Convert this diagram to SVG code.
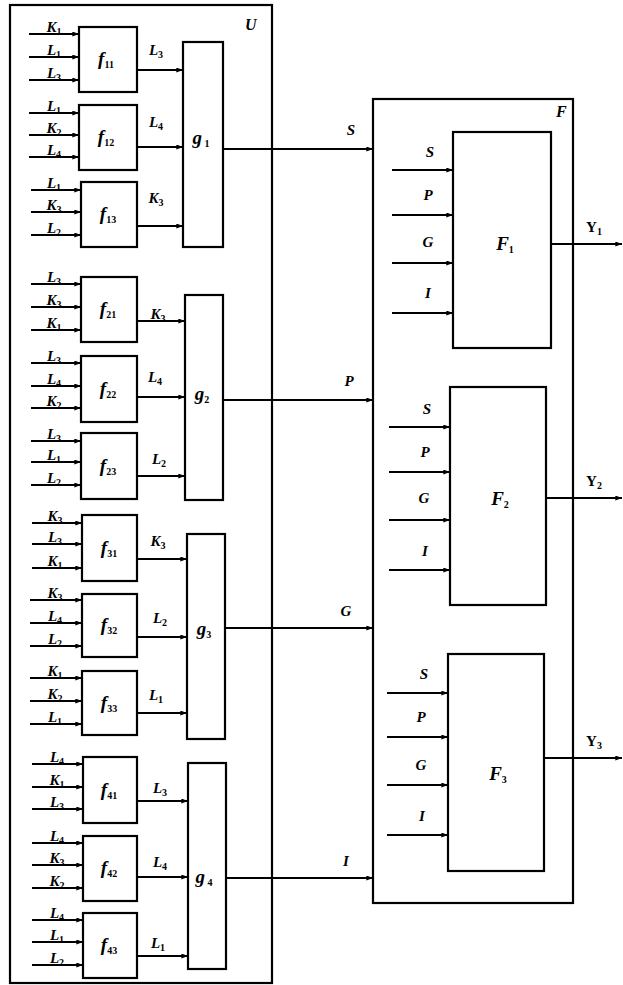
<svg xmlns="http://www.w3.org/2000/svg" width="623" height="985" viewBox="0 0 623 985">
<style>
.box{fill:#fff;stroke:#000;stroke-width:2.2}
.ln{stroke:#000;stroke-width:2;fill:none;marker-end:url(#a)}
.ln2{stroke:#000;stroke-width:2;fill:none}
text{font-family:"Liberation Serif","Times New Roman",serif;font-weight:bold;font-style:italic;fill:#000}
.in{font-size:15px;text-anchor:middle}
.fl{font-size:19px;text-anchor:middle}
.up{font-style:normal}
.s{font-size:10px;font-style:normal}
</style>
<defs>
<marker id="a" viewBox="0 0 8 6" refX="8" refY="3" markerWidth="7" markerHeight="5" markerUnits="userSpaceOnUse" orient="auto"><path d="M0,0 L8,3 L0,6 Z" fill="#000"/></marker>
</defs>
<g id="U"><rect class="box" x="10" y="5" width="262" height="978"/><text x="245" y="30" font-size="16">U</text></g>
<g id="F"><rect class="box" x="373" y="99" width="200" height="804"/><text x="556" y="117" font-size="16">F</text></g>

<g id="f11"><rect class="box" x="79" y="27" width="58" height="65"/><text class="fl" x="106" y="65">f<tspan class="s" dy="3">11</tspan></text></g>
<g id="f12"><rect class="box" x="79" y="105" width="58" height="65"/><text class="fl" x="106" y="143">f<tspan class="s" dy="3">12</tspan></text></g>
<g id="f13"><rect class="box" x="81" y="182" width="56" height="65"/><text class="fl" x="108" y="220">f<tspan class="s" dy="3">13</tspan></text></g>
<g id="f21"><rect class="box" x="81" y="277" width="56" height="65"/><text class="fl" x="108" y="315">f<tspan class="s" dy="3">21</tspan></text></g>
<g id="f22"><rect class="box" x="81" y="356" width="56" height="66"/><text class="fl" x="108" y="395">f<tspan class="s" dy="3">22</tspan></text></g>
<g id="f23"><rect class="box" x="81" y="433" width="56" height="66"/><text class="fl" x="108" y="472">f<tspan class="s" dy="3">23</tspan></text></g>
<g id="f31"><rect class="box" x="82" y="515" width="55" height="66"/><text class="fl" x="109" y="554">f<tspan class="s" dy="3">31</tspan></text></g>
<g id="f32"><rect class="box" x="82" y="594" width="55" height="63"/><text class="fl" x="109" y="631">f<tspan class="s" dy="3">32</tspan></text></g>
<g id="f33"><rect class="box" x="82" y="671" width="55" height="64"/><text class="fl" x="109" y="709">f<tspan class="s" dy="3">33</tspan></text></g>
<g id="f41"><rect class="box" x="83" y="757" width="54" height="66"/><text class="fl" x="109" y="796">f<tspan class="s" dy="3">41</tspan></text></g>
<g id="f42"><rect class="box" x="83" y="836" width="54" height="65"/><text class="fl" x="109" y="874">f<tspan class="s" dy="3">42</tspan></text></g>
<g id="f43"><rect class="box" x="83" y="913" width="54" height="65"/><text class="fl" x="109" y="951">f<tspan class="s" dy="3">43</tspan></text></g>

<g id="g1"><rect class="box" x="183" y="42" width="40" height="205"/><text class="fl" x="201" y="144">g<tspan class="s" dy="3"> 1</tspan></text></g>
<g id="g2"><rect class="box" x="185" y="295" width="38" height="205"/><text class="fl" x="202" y="400">g<tspan class="s" dy="3">2</tspan></text></g>
<g id="g3"><rect class="box" x="187" y="534" width="38" height="205"/><text class="fl" x="204" y="635">g<tspan class="s" dy="3">3</tspan></text></g>
<g id="g4"><rect class="box" x="188" y="763" width="38" height="206"/><text class="fl" x="204" y="883">g<tspan class="s" dy="3"> 4</tspan></text></g>

<g id="F1"><rect class="box" x="453" y="132" width="98" height="216"/><text class="fl" x="505" y="250">F<tspan class="s" dy="3">1</tspan></text></g>
<g id="F2"><rect class="box" x="450" y="387" width="96" height="218"/><text class="fl" x="500" y="505">F<tspan class="s" dy="3">2</tspan></text></g>
<g id="F3"><rect class="box" x="448" y="654" width="96" height="217"/><text class="fl" x="498" y="780">F<tspan class="s" dy="3">3</tspan></text></g>

<g id="connectors">
<!-- f11 inputs -->
<path class="ln" d="M29,34H79"/><path class="ln" d="M29,57H79"/><path class="ln" d="M29,80H79"/>
<path class="ln" d="M29,113H79"/><path class="ln" d="M29,135H79"/><path class="ln" d="M29,157H79"/>
<path class="ln" d="M31,190H81"/><path class="ln" d="M31,212H81"/><path class="ln" d="M31,235H81"/>
<path class="ln" d="M31,284H81"/><path class="ln" d="M31,307H81"/><path class="ln" d="M31,330H81"/>
<path class="ln" d="M31,363H81"/><path class="ln" d="M31,386H81"/><path class="ln" d="M31,408H81"/>
<path class="ln" d="M31,441H81"/><path class="ln" d="M31,462H81"/><path class="ln" d="M31,485H81"/>
<path class="ln" d="M32,523H82"/><path class="ln" d="M32,544H82"/><path class="ln" d="M32,568H82"/>
<path class="ln" d="M30,600H82"/><path class="ln" d="M30,623H82"/><path class="ln" d="M30,646H82"/>
<path class="ln" d="M30,678H82"/><path class="ln" d="M30,701H82"/><path class="ln" d="M30,724H82"/>
<path class="ln" d="M32,764H83"/><path class="ln" d="M32,787H83"/><path class="ln" d="M32,809H83"/>
<path class="ln" d="M32,843H83"/><path class="ln" d="M32,865H83"/><path class="ln" d="M32,888H83"/>
<path class="ln" d="M32,920H83"/><path class="ln" d="M32,942H83"/><path class="ln" d="M32,965H83"/>
<!-- f to g -->
<path class="ln" d="M137,70H183"/><path class="ln" d="M137,147H183"/><path class="ln" d="M137,226H183"/>
<path class="ln" d="M137,321H185"/><path class="ln" d="M137,397H185"/><path class="ln" d="M137,476H185"/>
<path class="ln" d="M137,559H187"/><path class="ln" d="M137,637H187"/><path class="ln" d="M137,713H187"/>
<path class="ln" d="M137,801H188"/><path class="ln" d="M137,877H188"/><path class="ln" d="M137,956H188"/>
<!-- g to F -->
<path class="ln" d="M223,149H373"/><path class="ln" d="M223,400H373"/><path class="ln" d="M225,628H373"/><path class="ln" d="M226,878H373"/>
<!-- F inner inputs -->
<path class="ln" d="M392,170H453"/><path class="ln" d="M392,215H453"/><path class="ln" d="M392,263H453"/><path class="ln" d="M392,313H453"/>
<path class="ln" d="M389,427H450"/><path class="ln" d="M389,472H450"/><path class="ln" d="M389,520H450"/><path class="ln" d="M389,570H450"/>
<path class="ln" d="M387,693H448"/><path class="ln" d="M387,737H448"/><path class="ln" d="M387,785H448"/><path class="ln" d="M387,835H448"/>
<!-- outputs -->
<path class="ln" d="M551,244H622"/><path class="ln" d="M546,498H622"/><path class="ln" d="M544,758H622"/>
</g>

<g id="labels">
<text class="in" x="54" y="32">K<tspan class="s" dy="3">1</tspan></text>
<text class="in" x="54" y="55">L<tspan class="s" dy="3">1</tspan></text>
<text class="in" x="54" y="78">L<tspan class="s" dy="3">3</tspan></text>
<text class="in" x="54" y="111">L<tspan class="s" dy="3">1</tspan></text>
<text class="in" x="54" y="133">K<tspan class="s" dy="3">2</tspan></text>
<text class="in" x="54" y="155">L<tspan class="s" dy="3">4</tspan></text>
<text class="in" x="54" y="188">L<tspan class="s" dy="3">1</tspan></text>
<text class="in" x="54" y="210">K<tspan class="s" dy="3">3</tspan></text>
<text class="in" x="54" y="233">L<tspan class="s" dy="3">2</tspan></text>
<text class="in" x="54" y="282">L<tspan class="s" dy="3">3</tspan></text>
<text class="in" x="54" y="305">K<tspan class="s" dy="3">3</tspan></text>
<text class="in" x="54" y="328">K<tspan class="s" dy="3">1</tspan></text>
<text class="in" x="54" y="361">L<tspan class="s" dy="3">3</tspan></text>
<text class="in" x="54" y="384">L<tspan class="s" dy="3">4</tspan></text>
<text class="in" x="54" y="406">K<tspan class="s" dy="3">2</tspan></text>
<text class="in" x="54" y="439">L<tspan class="s" dy="3">3</tspan></text>
<text class="in" x="54" y="460">L<tspan class="s" dy="3">1</tspan></text>
<text class="in" x="54" y="483">L<tspan class="s" dy="3">2</tspan></text>
<text class="in" x="55" y="521">K<tspan class="s" dy="3">3</tspan></text>
<text class="in" x="55" y="542">L<tspan class="s" dy="3">3</tspan></text>
<text class="in" x="55" y="566">K<tspan class="s" dy="3">1</tspan></text>
<text class="in" x="55" y="598">K<tspan class="s" dy="3">3</tspan></text>
<text class="in" x="55" y="621">L<tspan class="s" dy="3">4</tspan></text>
<text class="in" x="55" y="644">L<tspan class="s" dy="3">2</tspan></text>
<text class="in" x="55" y="676">K<tspan class="s" dy="3">1</tspan></text>
<text class="in" x="55" y="699">K<tspan class="s" dy="3">2</tspan></text>
<text class="in" x="55" y="722">L<tspan class="s" dy="3">1</tspan></text>
<text class="in" x="57" y="762">L<tspan class="s" dy="3">4</tspan></text>
<text class="in" x="57" y="785">K<tspan class="s" dy="3">1</tspan></text>
<text class="in" x="57" y="807">L<tspan class="s" dy="3">3</tspan></text>
<text class="in" x="57" y="841">L<tspan class="s" dy="3">4</tspan></text>
<text class="in" x="57" y="863">K<tspan class="s" dy="3">3</tspan></text>
<text class="in" x="57" y="886">K<tspan class="s" dy="3">2</tspan></text>
<text class="in" x="57" y="918">L<tspan class="s" dy="3">4</tspan></text>
<text class="in" x="57" y="940">L<tspan class="s" dy="3">1</tspan></text>
<text class="in" x="57" y="963">L<tspan class="s" dy="3">2</tspan></text>

<text class="in" x="156" y="55">L<tspan class="s" dy="3">3</tspan></text>
<text class="in" x="156" y="127">L<tspan class="s" dy="3">4</tspan></text>
<text class="in" x="156" y="203">K<tspan class="s" dy="3">3</tspan></text>
<text class="in" x="158" y="319">K<tspan class="s" dy="3">3</tspan></text>
<text class="in" x="155" y="382">L<tspan class="s" dy="3">4</tspan></text>
<text class="in" x="159" y="464">L<tspan class="s" dy="3">2</tspan></text>
<text class="in" x="158" y="546">K<tspan class="s" dy="3">3</tspan></text>
<text class="in" x="160" y="623">L<tspan class="s" dy="3">2</tspan></text>
<text class="in" x="156" y="700">L<tspan class="s" dy="3">1</tspan></text>
<text class="in" x="160" y="793">L<tspan class="s" dy="3">3</tspan></text>
<text class="in" x="160" y="867">L<tspan class="s" dy="3">4</tspan></text>
<text class="in" x="158" y="948">L<tspan class="s" dy="3">1</tspan></text>

<text class="in" x="351" y="135">S</text>
<text class="in" x="349" y="386">P</text>
<text class="in" x="346" y="616">G</text>
<text class="in" x="346" y="866">I</text>

<text class="in" x="430" y="157">S</text>
<text class="in" x="428" y="200">P</text>
<text class="in" x="428" y="247">G</text>
<text class="in" x="428" y="298">I</text>
<text class="in" x="427" y="414">S</text>
<text class="in" x="425" y="457">P</text>
<text class="in" x="424" y="503">G</text>
<text class="in" x="425" y="556">I</text>
<text class="in" x="424" y="679">S</text>
<text class="in" x="421" y="722">P</text>
<text class="in" x="421" y="770">G</text>
<text class="in" x="422" y="821">I</text>

<text class="in up" x="594" y="232">Y<tspan class="s" dy="3">1</tspan></text>
<text class="in up" x="594" y="486">Y<tspan class="s" dy="3">2</tspan></text>
<text class="in up" x="594" y="746">Y<tspan class="s" dy="3">3</tspan></text>
</g>
</svg>
